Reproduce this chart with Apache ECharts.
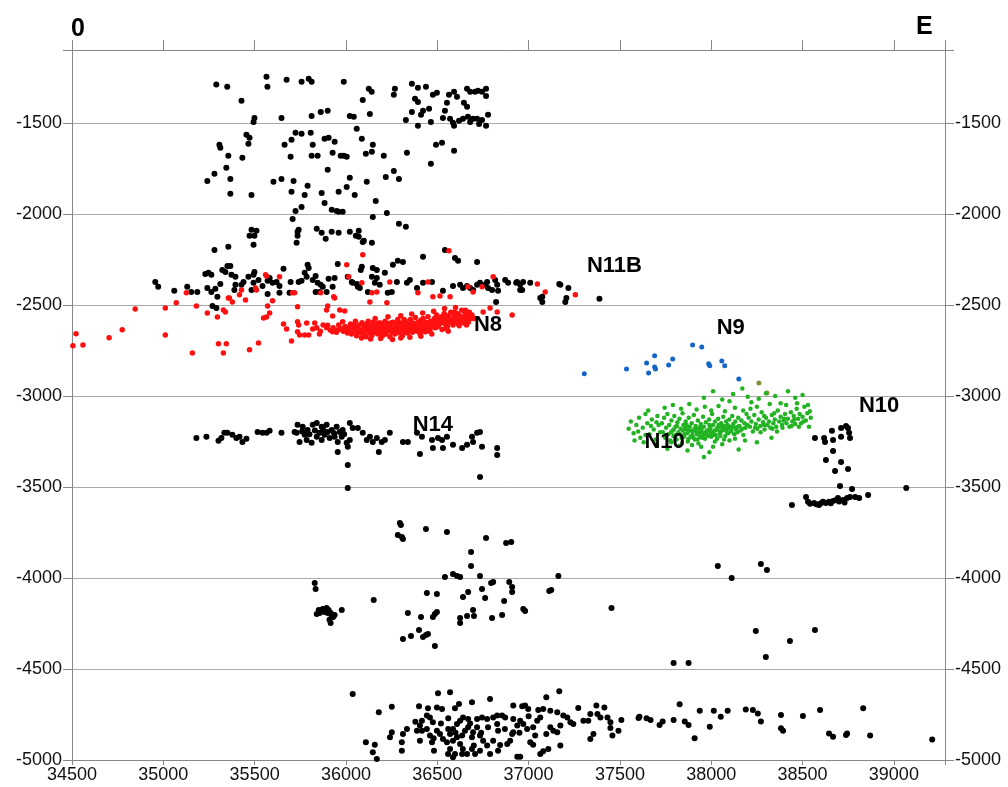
<!DOCTYPE html>
<html>
<head>
<meta charset="utf-8">
<script src="https://cdn.jsdelivr.net/npm/echarts@6/dist/echarts.min.js"></script>
<style>
  html, body { margin: 0; padding: 0; background: #fff; }
  #main { width: 1008px; height: 787px; }
</style>
</head>
<body>
<div id="main"></div>
<script>
// axis ranges
var xMin = 34500, xMax = 39280, yMin = -5000, yMax = -1100, step = 500;

// black events (N11B, N14, N10 east group, deep groups)
var blackPts = [
  [35290,-1290],[35350,-1302],[35565,-1247],[35570,-1302],[35675,-1264],[35757,-1275],[35796,-1258],[35812,-1275],
  [35988,-1275],[36125,-1313],[36141,-1330],[36268,-1313],[36262,-1346],[35428,-1379],[36092,-1374],[35499,-1473],
  [35494,-1495],[35647,-1473],[35812,-1462],[35862,-1440],[35900,-1434],[36021,-1462],[36043,-1467],[36131,-1451],
  [36328,-1484],[35455,-1566],[35472,-1582],[35466,-1615],[35307,-1621],[35312,-1637],[35356,-1681],[35433,-1692],
  [35664,-1621],[35702,-1593],[35724,-1555],[35757,-1560],[35807,-1555],[35818,-1621],[35883,-1588],[35905,-1582],
  [35938,-1604],[35697,-1687],[35812,-1681],[35845,-1681],[35927,-1665],[35971,-1681],[35988,-1681],[36004,-1687],
  [36059,-1533],[36087,-1588],[36147,-1621],[36142,-1659],[36109,-1670],[36207,-1681],[36334,-1665],[35345,-1747],
  [35280,-1780],[35241,-1819],[35367,-1808],[35367,-1890],[35483,-1896],[35603,-1824],[35647,-1808],[35713,-1819],
  [35900,-1758],[36021,-1802],[36004,-1852],[36048,-1896],[36114,-1824],[36218,-1797],[36262,-1764],[36290,-1808],
  [35790,-1846],[35774,-1896],[35702,-1879],[35867,-1885],[35960,-1879],[35883,-1940],[35922,-1978],[35949,-1984],
  [35960,-1989],[35982,-1989],[36163,-1929],[35757,-1962],[35724,-1984],[35708,-2028],[36147,-2017],[36224,-1995],
  [36290,-2055],[36328,-2071],[35483,-2088],[35510,-2093],[35472,-2121],[35499,-2121],[35494,-2170],[35735,-2099],
  [35735,-2121],[35741,-2088],[35730,-2159],[35840,-2082],[35867,-2104],[35889,-2137],[35922,-2099],[35960,-2104],
  [36021,-2099],[36070,-2093],[36054,-2121],[36098,-2148],[36142,-2159],[35280,-2198],[35356,-2181],
  [36361,-1286],[36394,-1308],[36438,-1302],[36378,-1368],[36394,-1385],[36476,-1346],[36498,-1335],[36564,-1346],
  [36592,-1330],[36608,-1357],[36663,-1313],[36680,-1330],[36707,-1330],[36723,-1324],[36745,-1330],[36767,-1313],
  [36767,-1352],[36553,-1390],[36646,-1390],[36663,-1412],[36361,-1440],[36411,-1456],[36422,-1434],[36455,-1423],
  [36542,-1434],[36394,-1516],[36465,-1495],[36531,-1473],[36570,-1478],[36586,-1500],[36592,-1516],[36619,-1489],
  [36641,-1478],[36668,-1467],[36680,-1495],[36696,-1478],[36718,-1478],[36729,-1506],[36745,-1484],[36767,-1516],
  [36778,-1456],[36493,-1621],[36526,-1610],[36592,-1654],[36465,-1725],
  [36422,-2236],[34956,-2374],[34972,-2401],[35060,-2423],[35131,-2401],[35153,-2429],[35186,-2429],[35230,-2330],
  [35247,-2324],[35263,-2335],[35241,-2407],[35263,-2429],[35285,-2412],[35312,-2385],[35323,-2308],[35351,-2286],
  [35367,-2286],[35340,-2319],[35373,-2335],[35296,-2456],[35269,-2506],[35291,-2517],[35395,-2346],[35395,-2390],
  [35389,-2418],[35428,-2390],[35439,-2374],[35466,-2346],[35494,-2335],[35499,-2319],[35494,-2379],[35483,-2418],
  [35571,-2440],[35582,-2352],[35598,-2379],[35620,-2374],[35636,-2396],[35636,-2434],[35691,-2434],[35658,-2302],
  [35697,-2374],[35741,-2374],[35757,-2368],[35785,-2346],[35790,-2280],[35796,-2297],[35774,-2324],[35818,-2363],
  [35834,-2341],[35845,-2379],[35862,-2390],[35873,-2401],[35894,-2429],[35834,-2429],[35905,-2357],[35938,-2352],
  [35955,-2275],[36010,-2346],[36037,-2379],[36065,-2401],[35521,-2363],[35543,-2396],[35571,-2368],[36092,-2154],
  [36070,-2126],[36542,-2198],[36597,-2242],[36614,-2258],[36718,-2264],[36257,-2280],[36284,-2258],[36312,-2264],
  [36087,-2291],[36081,-2308],[36032,-2374],[36059,-2385],[36076,-2407],[36120,-2429],[36142,-2346],[36169,-2352],
  [36169,-2308],[36147,-2297],[36158,-2379],[36185,-2390],[36213,-2324],[36229,-2434],[36251,-2429],[36279,-2374],
  [36334,-2379],[36350,-2363],[36389,-2407],[36422,-2379],[36471,-2374],[36531,-2423],[36586,-2396],[36625,-2390],
  [36641,-2407],[36663,-2396],[36680,-2407],[36696,-2418],[36718,-2390],[36734,-2379],[36762,-2390],[36773,-2374],
  [36778,-2407],[36800,-2418],[36817,-2363],[36828,-2390],[36833,-2423],[36822,-2484],[36872,-2363],[36888,-2379],
  [36937,-2374],[36954,-2390],[36970,-2374],[37009,-2379],[37064,-2462],[37075,-2484],[37168,-2385],[37218,-2407],
  [37207,-2462],[37201,-2484],[36954,-2418],[35856,-2429],[35927,-2401],[36965,-2418],[37174,-2390],[37075,-2456],
  [37388,-2467],[36932,-2379],
  [35181,-3231],[35236,-3225],[35302,-3247],[35318,-3231],[35334,-3203],[35351,-3203],[35378,-3214],[35400,-3231],
  [35417,-3225],[35433,-3253],[35455,-3236],[35516,-3198],[35543,-3203],[35565,-3203],[35582,-3192],[35647,-3203],
  [35719,-3198],[35735,-3159],[35763,-3170],[35790,-3187],[35818,-3159],[35840,-3149],[35867,-3170],[35894,-3159],
  [35922,-3187],[35949,-3170],[35966,-3198],[35982,-3187],[36021,-3149],[36037,-3176],[35746,-3253],[35785,-3242],
  [35812,-3258],[35840,-3225],[35867,-3242],[35883,-3214],[35911,-3231],[35938,-3225],[35955,-3253],[35977,-3225],
  [36004,-3258],[36021,-3242],[35955,-3308],[36010,-3280],[35730,-3203],[35774,-3214],[35856,-3203],[35900,-3198],
  [35760,-3195],[35800,-3210],[35830,-3190],[35875,-3185],[35935,-3205],[35990,-3210],
  [36010,-3379],[36010,-3506],[36065,-3176],[36092,-3203],[36114,-3242],[36131,-3225],[36147,-3253],[36169,-3231],
  [36180,-3308],[36196,-3253],[36213,-3242],[36240,-3203],[36312,-3253],[36339,-3253],[36389,-3203],[36405,-3319],
  [36416,-3225],[36471,-3242],[36476,-3286],[36504,-3231],[36526,-3242],[36531,-3286],[36553,-3225],[36586,-3269],
  [36636,-3286],[36663,-3269],[36690,-3225],[36696,-3253],[36718,-3203],[36734,-3198],[36745,-3280],[36734,-3445],
  [36828,-3286],[36828,-3324],
  [38568,-3231],[38618,-3231],[38623,-3253],[38661,-3192],[38667,-3242],[38711,-3176],[38711,-3225],[38738,-3165],
  [38749,-3176],[38755,-3203],[38760,-3231],[38667,-3302],[38628,-3352],[38711,-3363],[38678,-3412],[38749,-3401],
  [38705,-3495],[38771,-3511],[39068,-3506],[38442,-3599],[38519,-3555],[38530,-3582],[38541,-3593],[38563,-3588],
  [38590,-3599],[38612,-3582],[38628,-3588],[38645,-3582],[38667,-3577],[38683,-3572],[38694,-3561],[38722,-3572],
  [38744,-3561],[38760,-3555],[38788,-3555],[38810,-3561],[38859,-3544],[38575,-3595],[38600,-3590],[38655,-3590],
  [38700,-3580],[38730,-3585],
  [36295,-3698],[36301,-3709],[36284,-3764],[36306,-3775],[36312,-3786],[36438,-3731],[36553,-3747],[36767,-3780],
  [36877,-3808],[36905,-3802],[36685,-3857],[36685,-3934],[36586,-3978],[36608,-3989],[36625,-3995],[36542,-3995],
  [36734,-3989],[36795,-4028],[36806,-4022],[36894,-4022],[36910,-4050],[36910,-4077],[36745,-4061],[36669,-4077],
  [36641,-4105],[36762,-4110],[36866,-4127],[36971,-4171],[36981,-4182],[37113,-4072],[37124,-4066],[37163,-3989],
  [37454,-4165],[35829,-4028],[35834,-4061],[36152,-4121],[36443,-4083],[36498,-4088],[36339,-4193],[36411,-4215],
  [36476,-4215],[36487,-4198],[36498,-4187],[36400,-4286],[36312,-4335],[36356,-4319],[36422,-4324],[36438,-4313],
  [36449,-4308],[36487,-4374],[36625,-4220],[36625,-4248],[36663,-4209],[36696,-4176],[36701,-4209],[36800,-4220],
  [36855,-4204],[35840,-4198],[35851,-4176],[35873,-4171],[35883,-4187],[35894,-4165],[35905,-4176],[35916,-4193],
  [35922,-4209],[35927,-4204],[35938,-4204],[35916,-4248],[35977,-4176],[35856,-4193],[35900,-4193],[35910,-4230],
  [35930,-4215],[38036,-3934],[38112,-4000],[38272,-3923],[38305,-3956],[38244,-4292],[38568,-4286],[38431,-4346],
  [38299,-4434],[37794,-4467],[37876,-4467],
  [36037,-4637],[36504,-4634],[36570,-4628],[37168,-4623],[37097,-4656],[36789,-4665],[36690,-4683],[36619,-4692],
  [36251,-4707],[36180,-4738],[36400,-4705],[36449,-4716],[36498,-4711],[36526,-4720],[36597,-4716],[36916,-4701],
  [36965,-4705],[36981,-4701],[36998,-4720],[37053,-4725],[37080,-4720],[37119,-4729],[37157,-4738],[37272,-4714],
  [37371,-4701],[37415,-4711],[37602,-4769],[37508,-4780],[37492,-4839],[37448,-4793],[37432,-4766],[37393,-4766],
  [37377,-4747],[37338,-4747],[37327,-4784],[37300,-4784],[37448,-4824],[37459,-4866],[37355,-4857],[37338,-4885],
  [37245,-4802],[37229,-4793],[37212,-4766],[37190,-4756],[37174,-4811],[37157,-4848],[37135,-4839],[37119,-4820],
  [37097,-4857],[37064,-4766],[37047,-4784],[37025,-4820],[37036,-4866],[37025,-4916],[36992,-4830],[36971,-4802],
  [36954,-4784],[36938,-4811],[36916,-4775],[36910,-4857],[36899,-4894],[36872,-4766],[36855,-4756],[36828,-4756],
  [36806,-4766],[36828,-4802],[36833,-4839],[36806,-4894],[36778,-4820],[36773,-4775],[36745,-4766],[36718,-4775],
  [36718,-4820],[36696,-4848],[36690,-4875],[36734,-4866],[36751,-4894],[36734,-4949],[36707,-4967],[36663,-4967],
  [36636,-4967],[36586,-4985],[36597,-4967],[36570,-4940],[36553,-4903],[36570,-4857],[36586,-4830],[36608,-4802],
  [36625,-4784],[36641,-4766],[36669,-4775],[36669,-4820],[36652,-4839],[36636,-4866],[36608,-4875],[36586,-4894],
  [36531,-4885],[36515,-4857],[36498,-4839],[36476,-4793],[36460,-4766],[36443,-4756],[36416,-4784],[36405,-4811],
  [36416,-4839],[36443,-4830],[36460,-4866],[36471,-4903],[36405,-4894],[36389,-4839],[36334,-4830],[36312,-4857],
  [36306,-4903],[36306,-4949],[36241,-4875],[36251,-4848],[36158,-4916],[36109,-4903],[36147,-4958],[36169,-4995],
  [36482,-4949],[36559,-4967],[36789,-4967],[36833,-4949],[36938,-4982],[36954,-4982],[37064,-4967],[37080,-4952],
  [37108,-4940],[37174,-4921],[36844,-4918],[36883,-4912],[37009,-4903],[36916,-4848],[36625,-4912],[36690,-4940],
  [36773,-4921],[36520,-4800],[36560,-4770],[36680,-4800],[36740,-4850],[36870,-4830],[36600,-4850],[36480,-4880],
  [36700,-4920],[36380,-4790],[36950,-4850],[37000,-4760],[36640,-4940],[36560,-4830],
  [37607,-4762],[37646,-4771],[37668,-4780],[37717,-4808],[37734,-4789],[37794,-4780],[37855,-4789],[37876,-4808],
  [37909,-4881],[37937,-4729],[37992,-4817],[38014,-4729],[38052,-4762],[38090,-4729],[38189,-4722],[38228,-4725],
  [38255,-4744],[38272,-4789],[38382,-4753],[38382,-4826],[38393,-4839],[38502,-4758],[38596,-4725],[38645,-4854],
  [38667,-4872],[38738,-4863],[38744,-4854],[38870,-4866],[38832,-4716],[39210,-4887],[37827,-4694]
];

// red events (N8)
var redPts = [
  [35126,-2434],[35428,-2418],[35417,-2445],[35356,-2462],[35378,-2484],[35450,-2473],[35505,-2407],[35560,-2335],
  [35636,-2346],[35719,-2434],[35598,-2478],[35571,-2506],[35582,-2544],[35565,-2566],[35549,-2572],[35735,-2511],
  [35938,-2462],[35900,-2506],[36004,-2280],[36015,-2346],[34846,-2522],[35011,-2517],[35071,-2489],[35181,-2506],
  [35241,-2544],[35296,-2566],[35329,-2528],[35340,-2539],[34522,-2659],[34505,-2725],[34560,-2720],[34703,-2681],
  [34775,-2637],[35011,-2665],[35159,-2764],[35302,-2714],[35345,-2714],[35329,-2764],[35472,-2747],[35521,-2709],
  [35702,-2698],[35658,-2605],[35675,-2632],[35735,-2593],[35741,-2610],[35735,-2648],[35746,-2665],[35785,-2599],
  [35829,-2599],[35818,-2632],[35774,-2665],[35796,-2665],[35894,-2626],[35927,-2648],[35955,-2637],[35966,-2528],
  [35993,-2533],[35982,-2593],[35993,-2621],[36010,-2648],[36037,-2637],[36059,-2621],[36065,-2643],[35927,-2561],
  [35894,-2528],[36092,-2225],[36087,-2379],[36240,-2374],[36169,-2429],[36142,-2434],[36449,-2374],[36570,-2456],
  [36476,-2456],[36515,-2451],[36394,-2434],[36224,-2489],[36131,-2484],[36806,-2346],[36745,-2401],[36696,-2429],
  [36668,-2401],[37048,-2385],[37091,-2429],[37256,-2445],[36910,-2555],[36828,-2539],[36751,-2539],[36789,-2517],
  [35510,-2418],[36564,-2203],[35565,-2341],[35708,-2434],[35862,-2434],[35933,-2456],[35362,-2462],
  [35840,-2625],[35860,-2645],[35875,-2610],[35855,-2660],
  [35900,-2612],[35915,-2640],[35930,-2625],[35948,-2650],[35960,-2610],[35972,-2632],[35985,-2645],[35998,-2620],
  [36008,-2655],[36015,-2630],[36025,-2605],[36030,-2660],[36038,-2625],[36045,-2645],[36052,-2590],[36058,-2670],
  [36062,-2632],[36070,-2612],[36075,-2650],[36082,-2638],[36088,-2598],[36093,-2662],[36100,-2620],[36105,-2645],
  [36110,-2675],[36115,-2605],[36120,-2630],[36126,-2655],[36132,-2615],[36137,-2640],[36142,-2668],[36148,-2595],
  [36153,-2625],[36158,-2650],[36163,-2610],[36168,-2635],[36174,-2660],[36180,-2620],[36185,-2645],[36190,-2600],
  [36196,-2630],[36200,-2670],[36040,-2610],[36068,-2655],[36097,-2630],[36122,-2590],[36150,-2640],[36178,-2600],
  [36194,-2655],[36060,-2645],[36205,-2615],[36210,-2645],[36215,-2590],[36220,-2660],[36225,-2625],[36230,-2605],
  [36236,-2640],[36241,-2675],[36246,-2620],[36252,-2650],[36257,-2595],[36262,-2632],[36268,-2660],[36273,-2610],
  [36278,-2640],[36284,-2580],[36289,-2625],[36294,-2655],[36300,-2600],[36305,-2635],[36310,-2668],[36316,-2615],
  [36321,-2645],[36326,-2590],[36332,-2625],[36337,-2655],[36342,-2605],[36348,-2638],[36353,-2580],[36358,-2620],
  [36364,-2650],[36369,-2600],[36374,-2632],[36380,-2570],[36385,-2615],[36390,-2645],[36396,-2595],[36401,-2628],
  [36406,-2660],[36412,-2605],[36417,-2638],[36422,-2575],[36428,-2615],[36433,-2648],[36438,-2595],[36444,-2625],
  [36449,-2565],[36454,-2610],[36460,-2640],[36465,-2590],[36470,-2620],[36218,-2635],[36244,-2600],[36265,-2645],
  [36298,-2620],[36318,-2580],[36340,-2640],[36362,-2610],[36388,-2630],[36410,-2585],[36436,-2630],[36458,-2600],
  [36282,-2600],[36335,-2612],[36395,-2612],[36445,-2645],[36480,-2600],[36485,-2575],[36490,-2625],[36496,-2555],
  [36502,-2590],[36508,-2612],[36514,-2570],[36520,-2600],[36526,-2635],[36532,-2580],[36538,-2548],[36544,-2605],
  [36550,-2575],[36556,-2620],[36562,-2560],[36568,-2595],[36574,-2540],[36580,-2582],[36586,-2610],[36592,-2565],
  [36598,-2595],[36604,-2545],[36610,-2578],[36616,-2605],[36622,-2560],[36628,-2590],[36634,-2530],[36640,-2570],
  [36646,-2600],[36652,-2550],[36658,-2582],[36664,-2562],[36670,-2595],[36676,-2540],[36682,-2575],[36690,-2555],
  [36500,-2620],[36525,-2565],[36560,-2590],[36590,-2540],[36620,-2615],[36655,-2530],[36545,-2630],[36612,-2550],
  [36700,-2575],
  [36085,-2682],[36135,-2688],[36190,-2685],[36255,-2690],[36300,-2682],[36350,-2678],[36410,-2672],[36160,-2575],
  [36230,-2565],[36300,-2560],[36360,-2550],[36420,-2545],[36480,-2535],[36540,-2520],[36600,-2515],[36660,-2610],
  [36560,-2645],[36470,-2660]
];

// blue events (N9)
var bluePts = [
  [37305,-2879],[37536,-2852],[37646,-2819],[37657,-2874],[37690,-2780],[37690,-2841],[37695,-2852],[37767,-2830],
  [37789,-2797],[37898,-2720],[37948,-2731],[37986,-2824],[37992,-2835],[38058,-2808],[38074,-2835],[38151,-2907]
];

// olive events
var olivePts = [[38261,-2929],[38305,-2984]];

// green events (N10)
var greenPts = [
  [37960,-3010],[38010,-2975],[38060,-3020],[38120,-2990],[38170,-2960],[38200,-3005],[38260,-3015],[38300,-2985],
  [38350,-3000],[38420,-2975],[38460,-3010],[38500,-2995],[38100,-3030],[38220,-3035],[38380,-3040],
  [37548,-3180],[37560,-3140],[37575,-3205],[37590,-3160],[37605,-3120],[37612,-3230],[37625,-3175],[37640,-3100],
  [37650,-3150],[37662,-3210],[37675,-3130],[37685,-3185],[37695,-3240],[37705,-3110],[37712,-3160],[37720,-3200],
  [37580,-3245],[37630,-3255],[37655,-3080],[37700,-3265],
  [37730,-3150],[37735,-3200],[37742,-3120],[37748,-3230],[37753,-3175],[37760,-3100],[37765,-3210],[37770,-3160],
  [37776,-3245],[37782,-3135],[37788,-3190],[37793,-3220],[37798,-3110],[37804,-3170],[37810,-3240],[37815,-3145],
  [37820,-3200],[37826,-3125],[37832,-3180],[37838,-3230],[37843,-3095],[37848,-3160],[37854,-3210],[37860,-3140],
  [37866,-3185],[37872,-3250],[37877,-3120],[37882,-3170],[37888,-3225],[37893,-3150],[37899,-3195],[37905,-3105],
  [37910,-3240],[37915,-3165],[37921,-3210],[37927,-3135],[37932,-3180],[37938,-3225],[37943,-3155],[37949,-3200],
  [37955,-3115],[37960,-3170],[37966,-3235],[37971,-3145],[37977,-3190],[37982,-3220],[37988,-3130],[37993,-3175],
  [37999,-3205],[38005,-3100],[38010,-3160],[38016,-3215],[38021,-3140],[38027,-3185],[38032,-3235],[38038,-3125],
  [38043,-3170],[38049,-3205],[38054,-3150],[38060,-3190],[38066,-3115],[38071,-3165],[38077,-3220],[38082,-3140],
  [38088,-3180],[38093,-3205],[38099,-3130],[38104,-3170],[38110,-3195],[38115,-3110],[38121,-3155],[38126,-3210],
  [38132,-3140],[38137,-3175],[38143,-3200],[38148,-3120],[38154,-3165],[38160,-3190],[38165,-3135],[38171,-3180],
  [38176,-3215],[38182,-3150],[38187,-3175],[38193,-3100],[38198,-3160],
  [37795,-3185],[37812,-3165],[37828,-3210],[37845,-3190],[37858,-3175],[37870,-3205],[37885,-3190],[37897,-3215],
  [37908,-3180],[37920,-3195],[37934,-3205],[37946,-3185],[37958,-3215],[37970,-3200],[37984,-3190],[37996,-3180],
  [38008,-3200],[38020,-3190],[38034,-3175],[38046,-3195],[38058,-3170],[38070,-3185],[38084,-3195],[38096,-3175],
  [38108,-3180],[38120,-3170],[38134,-3185],[38146,-3170],[37850,-3225],[37875,-3235],[37902,-3230],[37925,-3240],
  [37950,-3230],[37975,-3210],[38000,-3225],[38025,-3215],[38050,-3220],[37780,-3200],[37805,-3215],[37865,-3160],
  [37915,-3185],[37940,-3170],[37990,-3160],[38040,-3160],[38090,-3160],
  [38205,-3120],[38212,-3170],[38220,-3140],[38228,-3195],[38236,-3105],[38244,-3155],[38252,-3180],[38260,-3130],
  [38268,-3165],[38276,-3090],[38284,-3145],[38292,-3185],[38300,-3120],[38308,-3160],[38316,-3140],[38324,-3175],
  [38332,-3105],[38340,-3150],[38348,-3130],[38356,-3170],[38364,-3080],[38372,-3140],[38380,-3115],[38388,-3160],
  [38396,-3135],[38404,-3100],[38412,-3150],[38420,-3125],[38428,-3170],[38436,-3090],[38444,-3140],[38452,-3110],
  [38460,-3155],[38468,-3070],[38476,-3125],[38484,-3100],[38492,-3150],[38500,-3115],[38510,-3060],[38518,-3135],
  [38526,-3095],[38535,-3170],[38545,-3120],[38240,-3175],[38290,-3160],[38335,-3180],[38390,-3175],[38440,-3165],
  [38480,-3170],[38250,-3060],[38320,-3045],[38410,-3050],[38470,-3040],[38530,-3050],
  [37820,-3275],[37870,-3300],[37930,-3262],[37960,-3335],[38010,-3280],[38060,-3265],[38150,-3295],[38250,-3255],
  [38330,-3230],[37760,-3290],[37990,-3310],[38100,-3245],
  [37745,-3065],[37790,-3050],[37835,-3070],[37880,-3045],[37920,-3075],[37965,-3060],[38000,-3080],[38040,-3055],
  [38075,-3085],[38130,-3065],[38175,-3080],[38215,-3070],[37780,-3255],[37840,-3262],[37895,-3270],[37945,-3280],
  [38020,-3250],[38070,-3240],[38130,-3235],[38185,-3245],[37600,-3195],[37640,-3215],[37670,-3165],[37700,-3145],
  [38290,-3110],[38345,-3095],[38400,-3125],[38455,-3130],[38505,-3140],[38540,-3085],[38270,-3200],[38360,-3195]
];

// group names and where they are written
var groupNames = ['N11B', 'N8', 'N9', 'N14', 'N10', 'N10'];
var groupX = [37470, 36778, 38107, 36476, 38919, 37745];
var groupY = [-2286, -2610, -2627, -3159, -3055, -3253];

var myChart = echarts.init(document.getElementById('main'));
var font = 'Liberation Sans, Arial, sans-serif';
var tickFmt = function (v) { return v % step === 0 ? String(v) : ''; };

var labelData = groupNames.map(function (n, i) {
  return { name: n, value: [groupX[i], groupY[i]] };
});

function dots(data, size, color) {
  return { type: 'scatter', data: data, symbolSize: size, itemStyle: { color: color, opacity: 1 } };
}

var option = {
  animation: false,
  backgroundColor: '#fff',
  title: [
    { text: '0', left: 66, top: 12, textStyle: { fontSize: 25, fontWeight: 'bold', color: '#000', fontFamily: font } },
    { text: 'E', left: 911, top: 10, textStyle: { fontSize: 25, fontWeight: 'bold', color: '#000', fontFamily: font } }
  ],
  grid: { left: 72, right: 63, top: 50, bottom: 27, containLabel: false },
  xAxis: [
    {
      type: 'value', position: 'bottom', min: xMin, max: xMax, interval: step,
      axisLine: { onZero: false, lineStyle: { color: '#888' } },
      axisTick: { length: 5, lineStyle: { color: '#888' } },
      axisLabel: { formatter: tickFmt, fontSize: 18, color: '#111', margin: 6, fontFamily: font },
      splitLine: { show: false }
    },
    {
      type: 'value', position: 'top', min: xMin, max: xMax, interval: step,
      axisLine: { onZero: false, lineStyle: { color: '#888' } },
      axisTick: { length: 10, lineStyle: { color: '#888' } },
      axisLabel: { show: false },
      splitLine: { show: false }
    }
  ],
  yAxis: [
    {
      type: 'value', position: 'left', min: yMin, max: yMax, interval: step,
      axisLine: { show: true, onZero: false, lineStyle: { color: '#888' } },
      axisTick: { show: true, length: 9, lineStyle: { color: '#888' } },
      axisLabel: { formatter: tickFmt, fontSize: 18, color: '#111', margin: 10, fontFamily: font },
      splitLine: { show: true, lineStyle: { color: '#aaa', width: 1 } }
    },
    {
      type: 'value', position: 'right', min: yMin, max: yMax, interval: step,
      axisLine: { show: true, onZero: false, lineStyle: { color: '#888' } },
      axisTick: { show: true, length: 9, lineStyle: { color: '#888' } },
      axisLabel: { formatter: tickFmt, fontSize: 18, color: '#111', margin: 10, fontFamily: font },
      splitLine: { show: false }
    }
  ],
  series: [
    dots(blackPts, 6, '#000'),
    dots(redPts, 5.5, '#ff1010'),
    dots(bluePts, 5, '#1565c8'),
    dots(olivePts, 5, '#8a8a3a'),
    dots(greenPts, 4.5, '#22b322'),
    {
      type: 'scatter', data: labelData, symbolSize: 0, silent: true, z: 5,
      itemStyle: { opacity: 1 },
      label: {
        show: true, position: 'inside', formatter: '{b}', opacity: 1,
        fontSize: 22, fontWeight: 'bold', color: '#000', fontFamily: font
      }
    }
  ]
};
option && myChart.setOption(option);
</script>
</body>
</html>
